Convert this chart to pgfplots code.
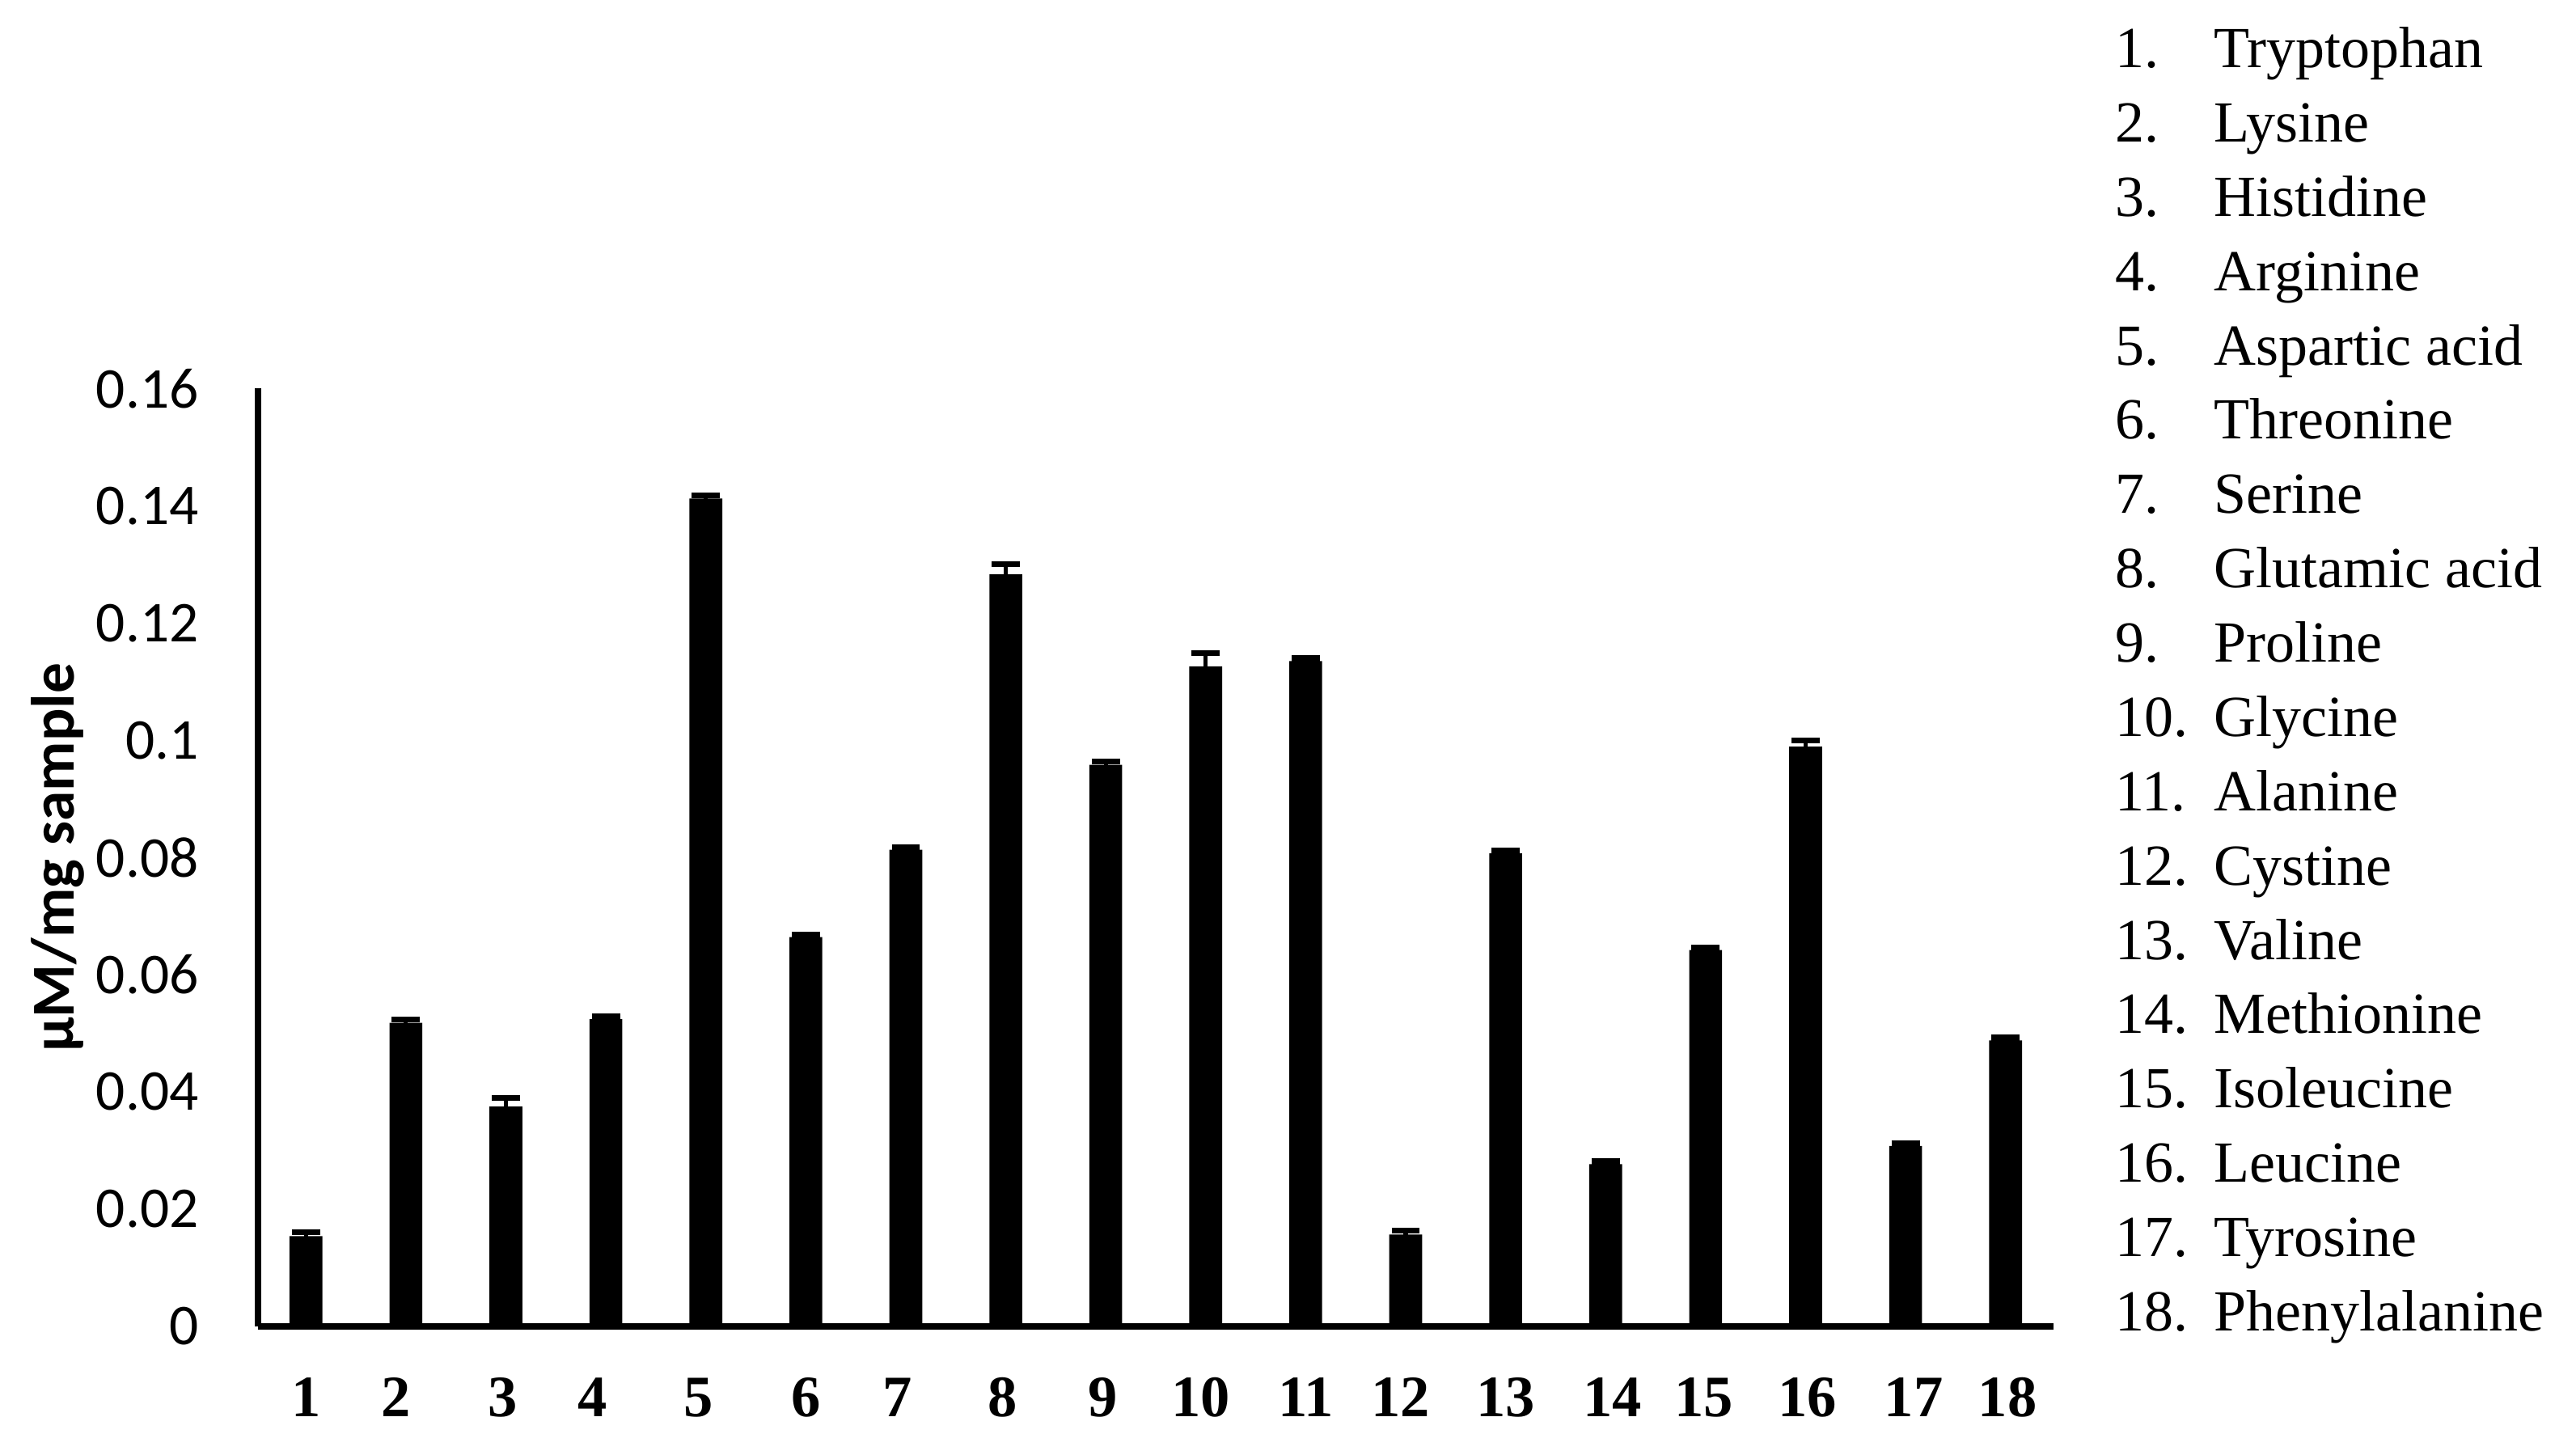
\documentclass[border=0pt]{standalone}
\usepackage{pgfplots}
\pgfplotsset{compat=1.18}
\usepackage{fontspec}
\setmainfont{Liberation Serif}
\newfontfamily\calibri{Carlito}

\begin{document}
\begin{tikzpicture}
\begin{axis}[
  scale only axis,
  width=382.55pt, height=199.85pt,
  xmin=0.52, xmax=18.48,
  ymin=0, ymax=0.16,
  axis x line=bottom, axis y line=left,
  axis line style={line width=1.3pt, -},
  tick style={draw=none},
  xtick={1,1.9,2.97,3.87,4.93,6,6.92,7.97,8.97,9.95,11,11.95,13,14.07,14.98,16.02,17.08,18.02},
  xticklabels={1,2,3,4,5,6,7,8,9,10,11,12,13,14,15,16,17,18},
  xticklabel style={font=\bfseries\fontsize{12.5}{14}\selectfont, yshift=-5.3pt},
  ytick={0,0.02,0.04,0.06,0.08,0.1,0.12,0.14,0.16},
  yticklabels={0,0.02,0.04,0.06,0.08,0.1,0.12,0.14,0.16},
  yticklabel style={font=\calibri\fontsize{12.3}{14}\selectfont, xshift=-7pt},
  ylabel={µM/mg sample},
  every axis y label/.style={at={(axis description cs:-0.1116,0.5)}, anchor=center, rotate=90,
    font=\calibri\bfseries\fontsize{13}{15}\selectfont},
  clip=false,
]
\addplot[ybar, bar width=7pt, fill=black, draw=none,
  error bars/.cd, y dir=both, y explicit,
  error bar style={line width=0.9pt, black},
  error mark options={rotate=90, line width=1.2pt, mark size=3pt, black}]
coordinates {
  (1,0.0154) +- (0,0.0007)
  (2,0.0518) +- (0,0.0005)
  (3,0.0375) +- (0,0.0015)
  (4,0.0524) +- (0,0.0005)
  (5,0.1412) +- (0,0.0005)
  (6,0.0664) +- (0,0.0005)
  (7,0.0813) +- (0,0.0005)
  (8,0.1283) +- (0,0.0017)
  (9,0.0958) +- (0,0.0005)
  (10,0.1126) +- (0,0.0022)
  (11,0.1135) +- (0,0.0005)
  (12,0.0157) +- (0,0.0007)
  (13,0.0807) +- (0,0.0005)
  (14,0.0277) +- (0,0.0005)
  (15,0.0642) +- (0,0.0005)
  (16,0.0989) +- (0,0.0010)
  (17,0.0308) +- (0,0.0005)
  (18,0.0488) +- (0,0.0005)
};
\node[anchor=north west, inner sep=0pt, align=left,
  font=\fontsize{12.4}{15.83}\selectfont] at (rel axis cs:1.0339,1.386) {%
  \makebox[21pt][l]{1.}Tryptophan\\
  \makebox[21pt][l]{2.}Lysine\\
  \makebox[21pt][l]{3.}Histidine\\
  \makebox[21pt][l]{4.}Arginine\\
  \makebox[21pt][l]{5.}Aspartic acid\\
  \makebox[21pt][l]{6.}Threonine\\
  \makebox[21pt][l]{7.}Serine\\
  \makebox[21pt][l]{8.}Glutamic acid\\
  \makebox[21pt][l]{9.}Proline\\
  \makebox[21pt][l]{10.}Glycine\\
  \makebox[21pt][l]{11.}Alanine\\
  \makebox[21pt][l]{12.}Cystine\\
  \makebox[21pt][l]{13.}Valine\\
  \makebox[21pt][l]{14.}Methionine\\
  \makebox[21pt][l]{15.}Isoleucine\\
  \makebox[21pt][l]{16.}Leucine\\
  \makebox[21pt][l]{17.}Tyrosine\\
  \makebox[21pt][l]{18.}Phenylalanine};
\end{axis}
\path (-54.95pt,-22.05pt) rectangle (493.85pt,282.6pt);
\end{tikzpicture}
\end{document}
